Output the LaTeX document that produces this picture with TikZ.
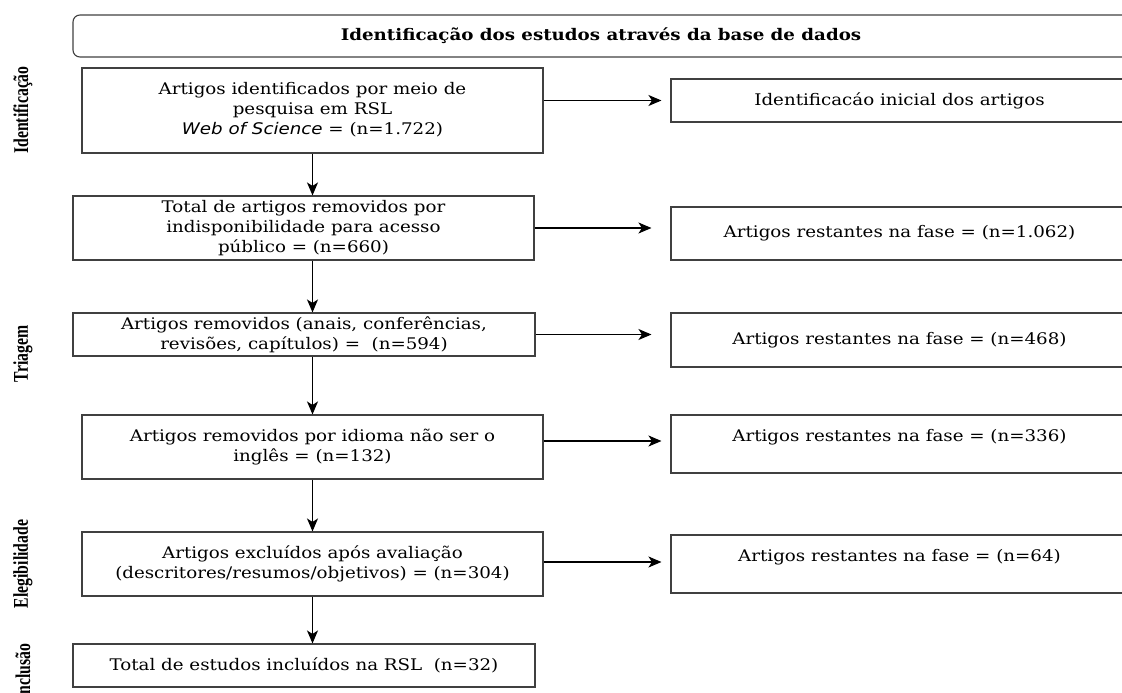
\documentclass[tikz,border=0pt]{standalone}
\usepackage{graphicx}
\usepackage{fontspec}
\setmainfont[FakeStretch=1.14]{DejaVu Serif}
\newfontfamily\sidefont{Liberation Serif}
\newfontfamily\wosfont[FakeStretch=1.14]{DejaVu Sans}
\usetikzlibrary{arrows.meta}

\begin{document}
\begin{tikzpicture}[x=1bp,y=-1bp,line width=1.1bp,
  >={Stealth[length=13bp,width=11bp,inset=3.5bp]},
  font=\fontsize{16bp}{20bp}\selectfont,
  box/.style={draw=black!75,rectangle,inner sep=0pt,align=center},
  side/.style={rotate=90,inner sep=0pt,font=\sidefont\bfseries\fontsize{21bp}{23bp}\selectfont}]

\useasboundingbox (0,0) rectangle (1122,693);

% phases on the left
\node [side] (p1) at (23,110) {\scalebox{0.75}[1]{Identificação}};
\node [side] (p2) at (23,354) {\scalebox{0.75}[1]{Triagem}};
\node [side] (p3) at (23,564) {\scalebox{0.75}[1]{Elegibilidade}};
\node [side] (p4) at (23,672) {\scalebox{0.75}[1]{Inclusão}};

\node [box,rounded corners=7bp,minimum width=1056bp,minimum height=42bp] (t) at (601,36)
  {\bfseries Identificação dos estudos através da base de dados};

% left column
\node [box,minimum width=461bp,minimum height=85bp] (a1) at (312.5,110.5)
  {\raisebox{7.5bp}{\begin{tabular}{@{}c@{}}Artigos identificados por meio de\\pesquisa em RSL\\{\wosfont\itshape Web of Science} = (n=1.722)\end{tabular}}};
\node [box,minimum width=461bp,minimum height=64bp] (a2) at (303.5,228)
  {Total de artigos removidos por\\indisponibilidade para acesso\\público = (n=660)};
\node [box,minimum width=462bp,minimum height=43bp] (a3) at (304,334.5)
  {Artigos removidos (anais, conferências,\\revisões, capítulos) = ~(n=594)};
\node [box,minimum width=461bp,minimum height=64bp] (a4) at (312.5,447)
  {Artigos removidos por idioma não ser o\\inglês = (n=132)};
\node [box,minimum width=461bp,minimum height=64bp] (a5) at (312.5,564)
  {Artigos excluídos após avaliação\\(descritores/resumos/objetivos) = (n=304)};
\node [box,minimum width=462bp,minimum height=43bp] (a6) at (304,665.5)
  {Total de estudos incluídos na RSL ~(n=32)};

% right column
\node [box,minimum width=457bp,minimum height=43bp] (b1) at (899.5,100.5)
  {Identificacáo inicial dos artigos};
\node [box,minimum width=457bp,minimum height=53bp] (b2) at (899.5,233.5)
  {Artigos restantes na fase = (n=1.062)};
\node [box,minimum width=457bp,minimum height=54bp] (b3) at (899.5,340)
  {Artigos restantes na fase = (n=468)};
\node [box,minimum width=457bp,minimum height=58bp] (b4) at (899.5,444)
  {\raisebox{3bp}[0pt][0pt]{Artigos restantes na fase = (n=336)}};
\node [box,minimum width=457bp,minimum height=58bp] (b5) at (899.5,564)
  {\raisebox{3bp}[0pt][0pt]{Artigos restantes na fase = (n=64)}};

\draw [->] (a1.south) -- (a1.south |- a2.north);
\draw [->] (a2.south -| a1.south) -- (a3.north -| a1.south);
\draw [->] (a3.south -| a1.south) -- (a4.north);
\draw [->] (a4.south) -- (a5.north);
\draw [->] (a5.south) -- (a6.north -| a5.south);

\draw [->] (a1.east |- b1.west) -- ([xshift=-9bp]b1.west);
\draw [->] (a2.east) -- ([xshift=-19bp]a2.east -| b2.west);
\draw [->] (a3.east) -- ([xshift=-19bp]a3.east -| b3.west);
\draw [->] ([yshift=6bp]a4.east) -- ([xshift=-9bp,yshift=6bp]a4.east -| b4.west);
\draw [->] ([yshift=2bp]a5.east) -- ([xshift=-9bp,yshift=2bp]a5.east -| b5.west);

\end{tikzpicture}
\end{document}
